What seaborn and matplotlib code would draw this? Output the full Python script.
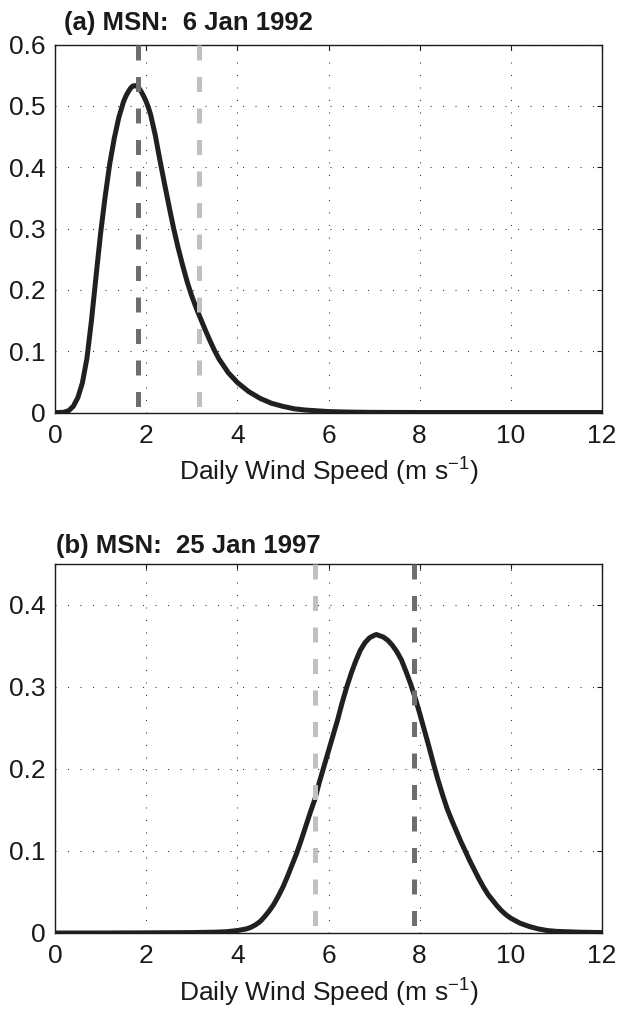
import matplotlib
matplotlib.use("Agg")
import matplotlib.pyplot as plt
import seaborn as sns
import pandas as pd

# ---------------- data ----------------
speed_a = [0.0, 0.1, 0.2, 0.3, 0.4, 0.5, 0.6, 0.7, 0.8, 0.9, 1.0, 1.1, 1.2, 1.3,
           1.4, 1.5, 1.55, 1.6, 1.65, 1.7, 1.75, 1.8, 1.85, 1.9, 1.95, 2.0, 2.05,
           2.1, 2.2, 2.3, 2.4, 2.5, 2.6, 2.7, 2.8, 2.9, 3.0, 3.1, 3.2, 3.3, 3.4,
           3.5, 3.6, 3.8, 4.0, 4.25, 4.5, 4.75, 5.0, 5.25, 5.5, 6.0, 6.5, 7.0,
           8.0, 9.0, 10.0, 11.0, 12.0]
pdf_a = [0.0, 0.0, 0.0005, 0.003, 0.010, 0.024, 0.048, 0.088, 0.150, 0.222,
         0.292, 0.352, 0.405, 0.447, 0.481, 0.506, 0.515, 0.522, 0.528, 0.532,
         0.533, 0.532, 0.528, 0.522, 0.515, 0.507, 0.497, 0.485, 0.452, 0.412,
         0.374, 0.337, 0.301, 0.269, 0.240, 0.213, 0.190, 0.170, 0.152, 0.134,
         0.117, 0.101, 0.087, 0.065, 0.049, 0.034, 0.023, 0.015, 0.010, 0.006,
         0.004, 0.0015, 0.0006, 0.0002, 0.0, 0.0, 0.0, 0.0, 0.0]

speed_b = [0.0, 1.0, 2.0, 3.0, 3.5, 3.75, 4.0, 4.1, 4.2, 4.3, 4.4, 4.5, 4.6,
           4.7, 4.8, 4.9, 5.0, 5.1, 5.2, 5.3, 5.4, 5.5, 5.6, 5.7, 5.8, 5.9, 6.0,
           6.1, 6.2, 6.3, 6.4, 6.5, 6.6, 6.7, 6.8, 6.9, 7.0, 7.05, 7.1, 7.2, 7.3,
           7.4, 7.5, 7.6, 7.7, 7.8, 7.9, 8.0, 8.1, 8.2, 8.3, 8.4, 8.5, 8.6, 8.7,
           8.8, 8.9, 9.0, 9.1, 9.2, 9.3, 9.4, 9.5, 9.6, 9.7, 9.8, 9.9, 10.0,
           10.2, 10.4, 10.6, 10.8, 11.0, 11.5, 12.0]
pdf_b = [0.0, 0.0, 0.0002, 0.0005, 0.001, 0.0015, 0.003, 0.004, 0.005, 0.007,
         0.010, 0.014, 0.020, 0.027, 0.035, 0.045, 0.056, 0.069, 0.083, 0.097,
         0.113, 0.130, 0.147, 0.163, 0.184, 0.203, 0.222, 0.241, 0.260, 0.281,
         0.300, 0.317, 0.332, 0.345, 0.354, 0.360, 0.363, 0.364, 0.363, 0.361,
         0.357, 0.351, 0.343, 0.333, 0.319, 0.304, 0.287, 0.268, 0.248, 0.228,
         0.207, 0.187, 0.169, 0.152, 0.138, 0.125, 0.112, 0.100, 0.088, 0.077,
         0.066, 0.056, 0.047, 0.040, 0.033, 0.027, 0.022, 0.018, 0.012, 0.008,
         0.005, 0.003, 0.002, 0.001, 0.0005]

# vertical reference speeds: [dark, light]
marks_a = [1.81, 3.17]
marks_b = [7.87, 5.71]

titles = ["(a) MSN:  6 Jan 1992", "(b) MSN:  25 Jan 1997"]
xlabel = r"Daily Wind Speed (m s$^{-1}$)"
xticks = [0, 2, 4, 6, 8, 10, 12]
yticks_a = [0, 0.1, 0.2, 0.3, 0.4, 0.5, 0.6]
yticks_b = [0, 0.1, 0.2, 0.3, 0.4]
ylim_a = (0, 0.6)
ylim_b = (0, 0.45)

# ---------------- style ----------------
sns.set_style("white")
plt.rcParams["font.family"] = ["Liberation Sans", "DejaVu Sans"]
plt.rcParams["mathtext.fontset"] = "custom"
plt.rcParams["mathtext.rm"] = "Liberation Sans"
plt.rcParams["mathtext.it"] = "Liberation Sans:italic"
plt.rcParams["mathtext.bf"] = "Liberation Sans:bold"
plt.rcParams["mathtext.default"] = "regular"

W, H = 619, 1010
fig = plt.figure(figsize=(W / 100, H / 100), dpi=100)

left = 55 / W
width = 547 / W
ax_a = fig.add_axes([left, (H - 412.5) / H, width, 368 / H])
ax_b = fig.add_axes([left, (H - 933) / H, width, 369 / H])

curve_color = "#231f20"
dark = "#6e6e6e"
light = "#c0c0c0"
text_color = "#1a1a1a"

panels = [
    (ax_a, speed_a, pdf_a, marks_a, titles[0], yticks_a, ylim_a, 9, 14.7),
    (ax_b, speed_b, pdf_b, marks_b, titles[1], yticks_b, ylim_b, 1, 11.0),
]

for ax, xs, ys, marks, title, yt, yl, tdx, tdy in panels:
    df = pd.DataFrame({"speed": xs, "pdf": ys})
    sns.lineplot(data=df, x="speed", y="pdf", ax=ax, color=curve_color,
                 linewidth=3.6, zorder=3)
    for xv, col in zip(marks, [dark, light]):
        ax.axvline(xv, ymin=1, ymax=0, color=col, linewidth=3.6,
                   linestyle=(0, (3.0, 3.3)), zorder=4)
    ax.set_xlim(0, 12)
    ax.set_ylim(*yl)
    ax.set_xticks(xticks)
    ax.set_yticks(yt)
    ax.set_xticklabels([str(t) for t in xticks])
    ax.set_yticklabels(["0" if t == 0 else f"{t:.1f}" for t in yt])
    ax.grid(True, color="#333333", linewidth=0.75, linestyle=(0, (1, 11)))
    ax.set_axisbelow(True)
    for s in ax.spines.values():
        s.set_visible(True)
        s.set_color(text_color)
        s.set_linewidth(1.0)
    ax.tick_params(axis="both", which="major", direction="in", length=3.6,
                   width=0.8, color=text_color, labelsize=19,
                   top=True, right=True, labelcolor=text_color)
    ax.tick_params(axis="x", pad=8)
    ax.tick_params(axis="y", pad=6.5)
    ax.set_xlabel(xlabel, fontsize=19, labelpad=6, color=text_color)
    ax.set_ylabel("")
    h_px = ax.get_position().height * H
    w_px = ax.get_position().width * W
    ax.text(tdx / w_px, 1 + tdy / h_px, title, transform=ax.transAxes,
            fontsize=18.5, fontweight="bold", ha="left", va="baseline",
            color=text_color)

fig.savefig("out.png", dpi=100)
